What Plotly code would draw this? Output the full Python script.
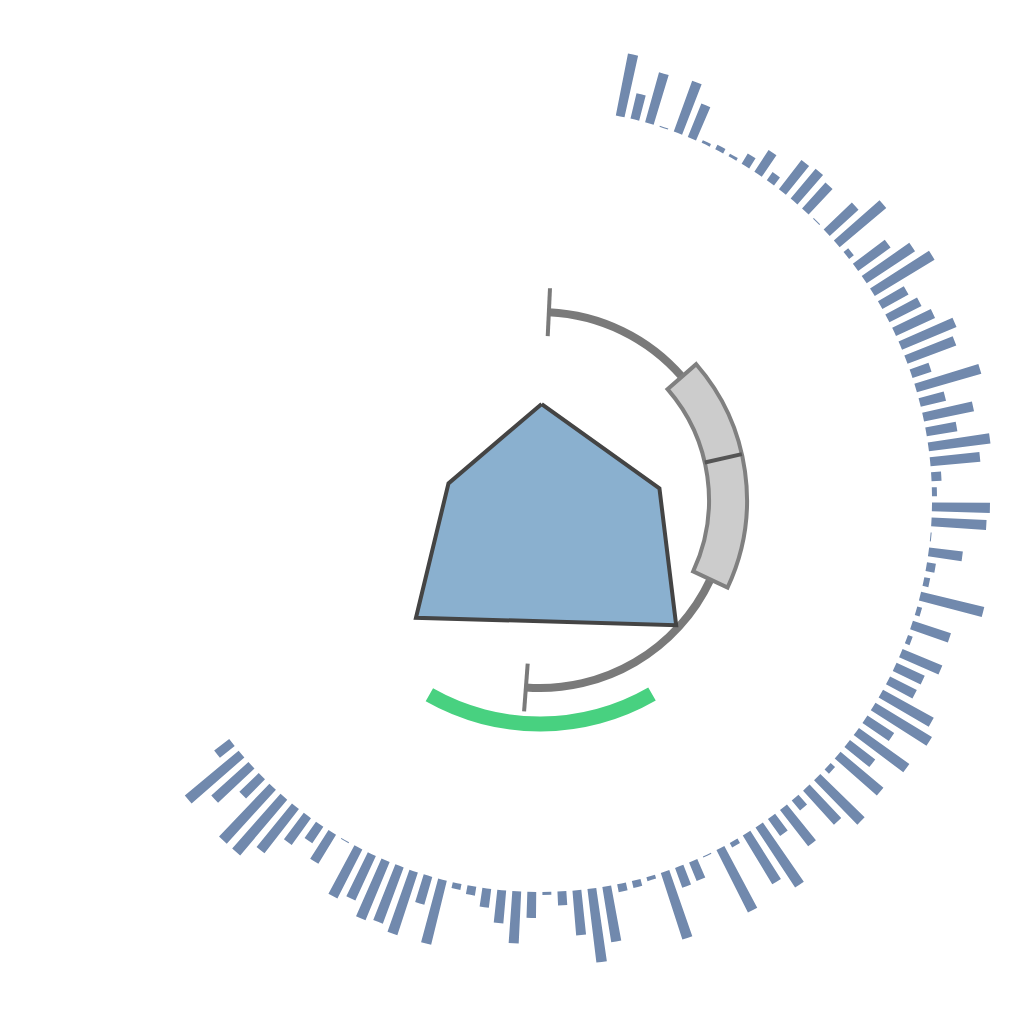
import plotly.graph_objects as go

# ---------------- data ----------------
# outer ring: 101 evenly spaced bars (lengths beyond the ring base)
bar_values = [63, 26, 52, 1, 54, 36, 3, 5, 3, 12,
              26, 10, 37, 39, 35, 1, 39, 61, 6, 40,
              58, 70, 30, 36, 43, 59, 52, 20, 67, 26,
              51, 31, 62, 50, 10, 5, 58, 55, 1, 34,
              9, 6, 65, 5, 40, 5, 43, 31, 30, 58,
              66, 32, 62, 32, 56, 6, 62, 46, 13, 46,
              21, 72, 57, 5, 70, 1, 20, 21, 70, 4,
              7, 8, 56, 74, 45, 14, 3, 26, 52, 33,
              19, 9, 6, 66, 29, 66, 60, 63, 49, 55,
              1, 34, 20, 33, 56, 73, 73, 27, 50, 70, 19]
bar_start_angle = 11.8
bar_step = 2.2
bar_angles = [bar_start_angle + bar_step * i for i in range(len(bar_values))]

# central polygon (angle in degrees, radius)
radar_theta = [1.0, 84.4, 132.6, 226.5, 280.3]
radar_r = [96, 120, 185, 171, 93]

# angular box plot statistics (degrees)
box_whisker_low = 2.7
box_q1 = 49.0
box_median = 77.2
box_q3 = 115.0
box_whisker_high = 184.3

# highlighted angular range (degrees)
range_start = 150.0
range_end = 209.6

# ---------------- styling / geometry ----------------
RING_BASE = 392
BOX_R = 188
BOX_HALF = 19
CAP_HALF = 24
WHISKER_T = 8
RANGE_R = 224
RANGE_T = 15
RMAX = 480

bar_color = "#7189ad"
fig = go.Figure()

# polygon
fig.add_trace(go.Scatterpolar(
    r=radar_r + [radar_r[0]], theta=radar_theta + [radar_theta[0]],
    mode="lines", fill="toself", fillcolor="#8ab0cf",
    line=dict(color="#444444", width=4), hoverinfo="skip"))

# whiskers (thin arc bars)
w1_mid = (box_whisker_low + box_q1) / 2
w2_mid = (box_q3 + box_whisker_high) / 2
fig.add_trace(go.Barpolar(
    theta=[w1_mid, w2_mid], r=[WHISKER_T, WHISKER_T],
    base=[BOX_R - WHISKER_T / 2] * 2,
    width=[box_q1 - box_whisker_low, box_whisker_high - box_q3],
    marker=dict(color="#7a7a7a", line=dict(width=0)), hoverinfo="skip"))

# box
fig.add_trace(go.Barpolar(
    theta=[(box_q1 + box_q3) / 2], r=[2 * BOX_HALF], base=[BOX_R - BOX_HALF],
    width=[box_q3 - box_q1],
    marker=dict(color="#cccccc", line=dict(color="#808080", width=4)),
    hoverinfo="skip"))

# median
fig.add_trace(go.Scatterpolar(
    theta=[box_median, box_median], r=[BOX_R - BOX_HALF, BOX_R + BOX_HALF],
    mode="lines", line=dict(color="#555555", width=4), hoverinfo="skip"))

# caps
fig.add_trace(go.Scatterpolar(
    theta=[box_whisker_low, box_whisker_low, None, box_whisker_high, box_whisker_high],
    r=[BOX_R - CAP_HALF, BOX_R + CAP_HALF, None, BOX_R - CAP_HALF, BOX_R + CAP_HALF],
    mode="lines", line=dict(color="#7a7a7a", width=4), hoverinfo="skip"))

# green range arc
fig.add_trace(go.Barpolar(
    theta=[(range_start + range_end) / 2], r=[RANGE_T], base=[RANGE_R - RANGE_T / 2],
    width=[range_end - range_start],
    marker=dict(color="#48d180", line=dict(width=0)), hoverinfo="skip"))

# outer bars
fig.add_trace(go.Barpolar(
    theta=bar_angles, r=bar_values, base=[RING_BASE] * len(bar_values),
    width=1.3, marker=dict(color=bar_color, line=dict(width=0)),
    hoverinfo="skip"))

# centre in figure pixels (the page adds an 8px body margin)
cx, cy = 532, 492
W = H = 1024
fig.update_layout(
    width=W, height=H,
    margin=dict(l=0, r=0, t=0, b=0),
    paper_bgcolor="white", plot_bgcolor="white",
    showlegend=False,
    polar=dict(
        domain=dict(x=[(cx - RMAX) / W, (cx + RMAX) / W],
                    y=[(H - cy - RMAX) / H, (H - cy + RMAX) / H]),
        bgcolor="white",
        barmode="overlay",
        radialaxis=dict(range=[0, RMAX], visible=False, showgrid=False),
        angularaxis=dict(rotation=90, direction="clockwise", visible=False,
                         showgrid=False),
    ),
)

fig.write_html("out.html")
